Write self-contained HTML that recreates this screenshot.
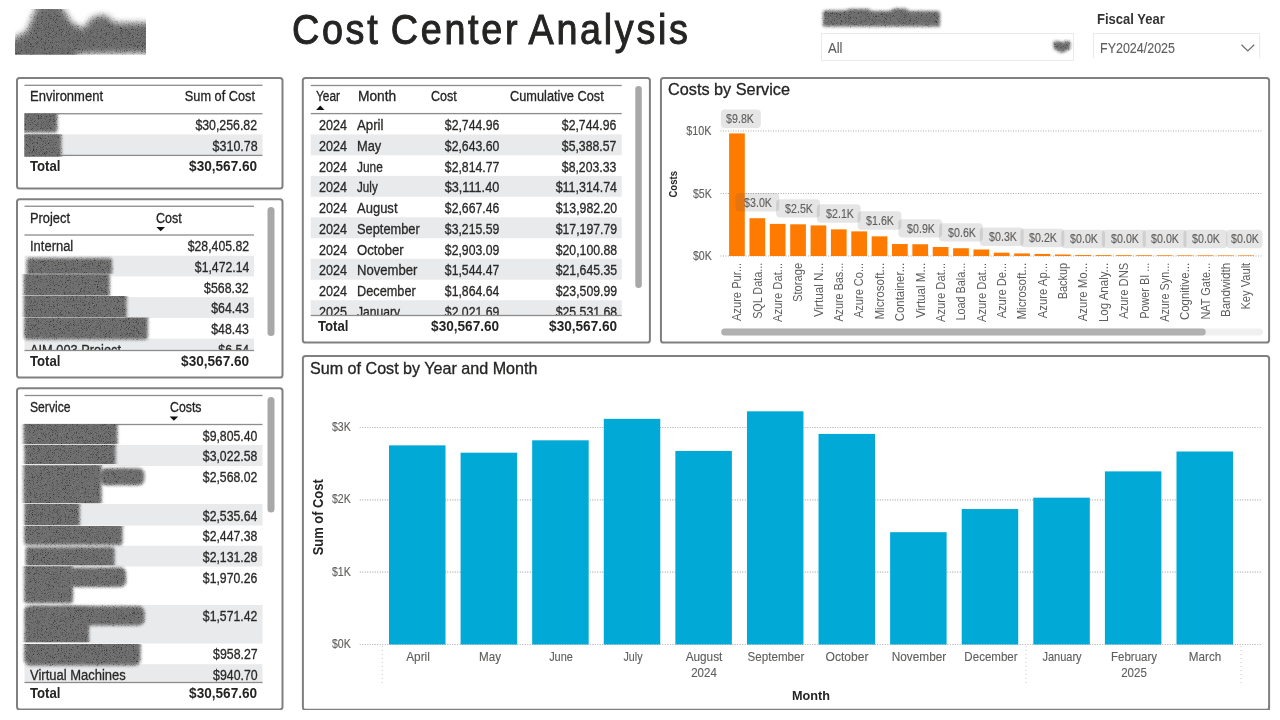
<!DOCTYPE html>
<html lang="en">
<head>
<meta charset="utf-8">
<title>Cost Center Analysis</title>
<style>
html,body{margin:0;padding:0;background:#fff}
h1,h2{margin:0;font-weight:400}
body{width:1280px;height:720px;position:relative;overflow:hidden;font-family:"Liberation Sans", sans-serif;color:#252423}
.t{position:absolute;white-space:nowrap;line-height:1;transform-origin:left center;-webkit-text-stroke:0.3px currentColor}
.b{position:absolute;box-sizing:border-box}
svg{position:absolute;left:0;top:0;overflow:visible}
svg text{font-family:"Liberation Sans", sans-serif}
</style>
</head>
<body>
<h1 id="t1" class="t" style="left:291.60px;top:9.45px;font-size:42px;letter-spacing:3px;word-spacing:-3px;-webkit-text-stroke:1px #252423;transform:scaleX(0.8981)">Cost Center Analysis</h1>
<div class="b" style="left:821.00px;top:33.00px;width:253.00px;height:27.50px;border:1px solid #eaeaea;background:#fff"></div>
<div id="t2" class="t" style="left:827.50px;top:41.45px;font-size:14px;color:#605e5c;-webkit-text-stroke:0.12px;transform:scaleX(0.9317)">All</div>
<div class="b" style="left:1093.00px;top:33.00px;width:167.00px;height:25.00px;border:1px solid #eaeaea;border-bottom:none;background:#fff"></div>
<div id="t3" class="t" style="left:1096.75px;top:11.65px;font-size:14px;color:#333;font-weight:700;-webkit-text-stroke:0;transform:scaleX(0.9291)">Fiscal Year</div>
<div id="t4" class="t" style="left:1099.50px;top:41.45px;font-size:14px;color:#605e5c;-webkit-text-stroke:0.12px;transform:scaleX(0.8920)">FY2024/2025</div>
<svg width="1280" height="720"><polyline points="1241.5,44.8 1247.8,51 1254.2,44.8" fill="none" stroke="#6f6d6b" stroke-width="1.2"/></svg>
<svg width="1280" height="720"><rect x="17" y="78" width="265.5" height="110.6" rx="2.6" fill="#fff" stroke="#808080" stroke-width="2"/></svg>
<svg width="1280" height="720"><rect x="24.5" y="84.65" width="238" height="1.3" fill="#8c8c8c"/></svg>
<div id="t5" class="t" style="left:30.30px;top:89.15px;font-size:14px;transform:scaleX(0.9288)">Environment</div>
<div id="t6" class="t" style="right:1025.00px;top:89.15px;font-size:14px;transform:scaleX(0.9113);transform-origin:right">Sum of Cost</div>
<svg width="1280" height="720"><rect x="24.5" y="113.1" width="238" height="1.3" fill="#8c8c8c"/></svg>
<svg width="1280" height="720"><rect x="24.5" y="134.4" width="238" height="20.6" fill="#e9eaec"/></svg>
<div id="t7" class="t" style="right:1022.70px;top:118.15px;font-size:14px;color:#2a2928;transform:scaleX(0.8804);transform-origin:right">$30,256.82</div>
<div id="t8" class="t" style="right:1022.70px;top:138.85px;font-size:14px;color:#2a2928;transform:scaleX(0.8892);transform-origin:right">$310.78</div>
<svg width="1280" height="720"><rect x="24.5" y="154.75" width="238" height="1.3" fill="#8c8c8c"/></svg>
<div id="t9" class="t" style="left:30.00px;top:159.15px;font-size:14px;font-weight:700;-webkit-text-stroke:0;transform:scaleX(0.9412)">Total</div>
<div id="t10" class="t" style="right:1022.50px;top:159.15px;font-size:14px;font-weight:700;-webkit-text-stroke:0;transform:scaleX(0.9703);transform-origin:right">$30,567.60</div>
<svg width="1280" height="720"><rect x="17" y="199.2" width="265.5" height="178.3" rx="2.6" fill="#fff" stroke="#808080" stroke-width="2"/></svg>
<svg width="1280" height="720"><rect x="24.5" y="205.6" width="229.5" height="1.3" fill="#8c8c8c"/></svg>
<div id="t11" class="t" style="left:30.00px;top:210.65px;font-size:14px;transform:scaleX(0.9179)">Project</div>
<div id="t12" class="t" style="left:156.25px;top:210.65px;font-size:14px;transform:scaleX(0.8942)">Cost</div>
<svg width="1280" height="720"><polygon points="156.4,226.9 165,226.9 160.7,231.3" fill="#111"/></svg>
<svg width="1280" height="720"><rect x="24.5" y="234.35" width="229.5" height="1.3" fill="#8c8c8c"/></svg>
<div class="b" style="left:0;top:235.6px;width:1280px;height:114.6px;overflow:hidden"><div class="b" style="left:0;top:-235.6px;width:1280px;height:720px">
<div id="t13" class="t" style="right:1031.00px;top:239.15px;font-size:14px;color:#2a2928;transform:scaleX(0.8756);transform-origin:right">$28,405.82</div>
<svg width="1280" height="720"><rect x="24.5" y="255.72" width="229.5" height="20.72" fill="#e9eaec"/></svg>
<div id="t14" class="t" style="right:1031.00px;top:259.85px;font-size:14px;color:#2a2928;transform:scaleX(0.8739);transform-origin:right">$1,472.14</div>
<div id="t15" class="t" style="right:1031.00px;top:280.55px;font-size:14px;color:#2a2928;transform:scaleX(0.8797);transform-origin:right">$568.32</div>
<svg width="1280" height="720"><rect x="24.5" y="297.16" width="229.5" height="20.72" fill="#e9eaec"/></svg>
<div id="t16" class="t" style="right:1031.00px;top:301.25px;font-size:14px;color:#2a2928;transform:scaleX(0.8779);transform-origin:right">$64.43</div>
<div id="t17" class="t" style="right:1031.00px;top:321.95px;font-size:14px;color:#2a2928;transform:scaleX(0.8779);transform-origin:right">$48.43</div>
<svg width="1280" height="720"><rect x="24.5" y="338.6" width="229.5" height="20.72" fill="#e9eaec"/></svg>
<div id="t18" class="t" style="right:1031.00px;top:342.65px;font-size:14px;color:#2a2928;transform:scaleX(0.8754);transform-origin:right">$6.54</div>
<div id="t19" class="t" style="left:30.00px;top:239.15px;font-size:14px;color:#2a2928;transform:scaleX(0.9261)">Internal</div>
<div id="t20" class="t" style="left:30.00px;top:342.65px;font-size:14px;color:#2a2928;transform:scaleX(0.9136)">AIM 003 Project</div>
</div></div>
<svg width="1280" height="720"><rect x="24.5" y="349.85" width="229.5" height="1.3" fill="#8c8c8c"/></svg>
<div id="t21" class="t" style="left:30.00px;top:354.25px;font-size:14px;font-weight:700;-webkit-text-stroke:0;transform:scaleX(0.9412)">Total</div>
<div id="t22" class="t" style="right:1031.00px;top:354.25px;font-size:14px;font-weight:700;-webkit-text-stroke:0;transform:scaleX(0.9703);transform-origin:right">$30,567.60</div>
<svg width="1280" height="720"><rect x="267.5" y="207" width="7" height="129" rx="3.5" fill="#a8a8a8"/></svg>
<svg width="1280" height="720"><rect x="17" y="388.3" width="265.5" height="321.1" rx="2.6" fill="#fff" stroke="#808080" stroke-width="2"/></svg>
<svg width="1280" height="720"><rect x="24.5" y="394.85" width="238" height="1.3" fill="#8c8c8c"/></svg>
<div id="t23" class="t" style="left:30.00px;top:400.15px;font-size:14px;transform:scaleX(0.8675)">Service</div>
<div id="t24" class="t" style="left:169.50px;top:400.15px;font-size:14px;transform:scaleX(0.8800)">Costs</div>
<svg width="1280" height="720"><polygon points="169.6,416.4 178.2,416.4 173.9,420.8" fill="#111"/></svg>
<svg width="1280" height="720"><rect x="24.5" y="423.85" width="238" height="1.3" fill="#8c8c8c"/></svg>
<div class="b" style="left:0;top:425.1px;width:1280px;height:257.1px;overflow:hidden"><div class="b" style="left:0;top:-425.1px;width:1280px;height:720px">
<div id="t25" class="t" style="right:1022.25px;top:428.75px;font-size:14px;color:#2a2928;transform:scaleX(0.8739);transform-origin:right">$9,805.40</div>
<svg width="1280" height="720"><rect x="24.5" y="445" width="238" height="21" fill="#e9eaec"/></svg>
<div id="t26" class="t" style="right:1022.25px;top:449.45px;font-size:14px;color:#2a2928;transform:scaleX(0.8739);transform-origin:right">$3,022.58</div>
<div id="t27" class="t" style="right:1022.25px;top:470.15px;font-size:14px;color:#2a2928;transform:scaleX(0.8739);transform-origin:right">$2,568.02</div>
<svg width="1280" height="720"><rect x="24.5" y="504" width="238" height="21.5" fill="#e9eaec"/></svg>
<div id="t28" class="t" style="right:1022.25px;top:508.55px;font-size:14px;color:#2a2928;transform:scaleX(0.8739);transform-origin:right">$2,535.64</div>
<div id="t29" class="t" style="right:1022.25px;top:529.15px;font-size:14px;color:#2a2928;transform:scaleX(0.8739);transform-origin:right">$2,447.38</div>
<svg width="1280" height="720"><rect x="24.5" y="545.7" width="238" height="20.8" fill="#e9eaec"/></svg>
<div id="t30" class="t" style="right:1022.25px;top:549.85px;font-size:14px;color:#2a2928;transform:scaleX(0.8739);transform-origin:right">$2,131.28</div>
<div id="t31" class="t" style="right:1022.25px;top:570.65px;font-size:14px;color:#2a2928;transform:scaleX(0.8739);transform-origin:right">$1,970.26</div>
<svg width="1280" height="720"><rect x="24.5" y="605" width="238" height="38.5" fill="#e9eaec"/></svg>
<div id="t32" class="t" style="right:1022.25px;top:609.15px;font-size:14px;color:#2a2928;transform:scaleX(0.8739);transform-origin:right">$1,571.42</div>
<div id="t33" class="t" style="right:1022.25px;top:647.45px;font-size:14px;color:#2a2928;transform:scaleX(0.8797);transform-origin:right">$958.27</div>
<svg width="1280" height="720"><rect x="24.5" y="664.2" width="238" height="20.7" fill="#e9eaec"/></svg>
<div id="t34" class="t" style="right:1022.25px;top:668.15px;font-size:14px;color:#2a2928;transform:scaleX(0.8797);transform-origin:right">$940.70</div>
<div id="t35" class="t" style="left:30.00px;top:668.15px;font-size:14px;color:#2a2928;transform:scaleX(0.9274)">Virtual Machines</div>
</div></div>
<svg width="1280" height="720"><rect x="24.5" y="681.85" width="238" height="1.3" fill="#8c8c8c"/></svg>
<div id="t36" class="t" style="left:30.00px;top:686.15px;font-size:14px;font-weight:700;-webkit-text-stroke:0;transform:scaleX(0.9412)">Total</div>
<div id="t37" class="t" style="right:1022.50px;top:686.15px;font-size:14px;font-weight:700;-webkit-text-stroke:0;transform:scaleX(0.9703);transform-origin:right">$30,567.60</div>
<svg width="1280" height="720"><rect x="267.5" y="397" width="7" height="115.5" rx="3.5" fill="#a8a8a8"/></svg>
<svg width="1280" height="720"><rect x="302.8" y="78" width="347.1" height="264.5" rx="2.6" fill="#fff" stroke="#808080" stroke-width="2"/></svg>
<svg width="1280" height="720"><rect x="310.75" y="84.85" width="311" height="1.3" fill="#8c8c8c"/></svg>
<div id="t38" class="t" style="left:316.00px;top:89.15px;font-size:14px;transform:scaleX(0.8482)">Year</div>
<div id="t39" class="t" style="left:357.50px;top:89.15px;font-size:14px;transform:scaleX(0.9827)">Month</div>
<div id="t40" class="t" style="left:431.00px;top:89.15px;font-size:14px;transform:scaleX(0.8942)">Cost</div>
<div id="t41" class="t" style="left:510.00px;top:89.15px;font-size:14px;transform:scaleX(0.9128)">Cumulative Cost</div>
<svg width="1280" height="720"><polygon points="316.1,110 320.3,105.6 324.5,110" fill="#111"/></svg>
<svg width="1280" height="720"><rect x="310.75" y="112.95" width="311" height="1.3" fill="#8c8c8c"/></svg>
<div class="b" style="left:0;top:114.2px;width:1280px;height:201px;overflow:hidden"><div class="b" style="left:0;top:-114.2px;width:1280px;height:720px">
<div id="t42" class="t" style="left:319.00px;top:118.15px;font-size:14px;color:#2a2928;transform:scaleX(0.8987)">2024</div>
<div id="t43" class="t" style="left:356.90px;top:118.15px;font-size:14px;color:#2a2928;transform:scaleX(0.9459)">April</div>
<div id="t44" class="t" style="right:780.50px;top:118.15px;font-size:14px;color:#2a2928;transform:scaleX(0.8739);transform-origin:right">$2,744.96</div>
<div id="t45" class="t" style="right:663.25px;top:118.15px;font-size:14px;color:#2a2928;transform:scaleX(0.8739);transform-origin:right">$2,744.96</div>
<svg width="1280" height="720"><rect x="310.75" y="134.43" width="311" height="20.9" fill="#e9eaec"/></svg>
<div id="t46" class="t" style="left:319.00px;top:138.88px;font-size:14px;color:#2a2928;transform:scaleX(0.8987)">2024</div>
<div id="t47" class="t" style="left:356.90px;top:138.88px;font-size:14px;color:#2a2928;transform:scaleX(0.9167)">May</div>
<div id="t48" class="t" style="right:780.50px;top:138.88px;font-size:14px;color:#2a2928;transform:scaleX(0.8739);transform-origin:right">$2,643.60</div>
<div id="t49" class="t" style="right:663.25px;top:138.88px;font-size:14px;color:#2a2928;transform:scaleX(0.8739);transform-origin:right">$5,388.57</div>
<div id="t50" class="t" style="left:319.00px;top:159.61px;font-size:14px;color:#2a2928;transform:scaleX(0.8987)">2024</div>
<div id="t51" class="t" style="left:356.90px;top:159.61px;font-size:14px;color:#2a2928;transform:scaleX(0.8482)">June</div>
<div id="t52" class="t" style="right:780.50px;top:159.61px;font-size:14px;color:#2a2928;transform:scaleX(0.8739);transform-origin:right">$2,814.77</div>
<div id="t53" class="t" style="right:663.25px;top:159.61px;font-size:14px;color:#2a2928;transform:scaleX(0.8739);transform-origin:right">$8,203.33</div>
<svg width="1280" height="720"><rect x="310.75" y="175.89" width="311" height="20.9" fill="#e9eaec"/></svg>
<div id="t54" class="t" style="left:319.00px;top:180.34px;font-size:14px;color:#2a2928;transform:scaleX(0.8987)">2024</div>
<div id="t55" class="t" style="left:356.90px;top:180.34px;font-size:14px;color:#2a2928;transform:scaleX(0.8331)">July</div>
<div id="t56" class="t" style="right:780.50px;top:180.34px;font-size:14px;color:#2a2928;transform:scaleX(0.9040);transform-origin:right">$3,111.40</div>
<div id="t57" class="t" style="right:663.25px;top:180.34px;font-size:14px;color:#2a2928;transform:scaleX(0.8889);transform-origin:right">$11,314.74</div>
<div id="t58" class="t" style="left:319.00px;top:201.07px;font-size:14px;color:#2a2928;transform:scaleX(0.8987)">2024</div>
<div id="t59" class="t" style="left:356.90px;top:201.07px;font-size:14px;color:#2a2928;transform:scaleX(0.9290)">August</div>
<div id="t60" class="t" style="right:780.50px;top:201.07px;font-size:14px;color:#2a2928;transform:scaleX(0.8739);transform-origin:right">$2,667.46</div>
<div id="t61" class="t" style="right:663.25px;top:201.07px;font-size:14px;color:#2a2928;transform:scaleX(0.8756);transform-origin:right">$13,982.20</div>
<svg width="1280" height="720"><rect x="310.75" y="217.35" width="311" height="20.9" fill="#e9eaec"/></svg>
<div id="t62" class="t" style="left:319.00px;top:221.80px;font-size:14px;color:#2a2928;transform:scaleX(0.8987)">2024</div>
<div id="t63" class="t" style="left:356.90px;top:221.80px;font-size:14px;color:#2a2928;transform:scaleX(0.9163)">September</div>
<div id="t64" class="t" style="right:780.50px;top:221.80px;font-size:14px;color:#2a2928;transform:scaleX(0.8739);transform-origin:right">$3,215.59</div>
<div id="t65" class="t" style="right:663.25px;top:221.80px;font-size:14px;color:#2a2928;transform:scaleX(0.8756);transform-origin:right">$17,197.79</div>
<div id="t66" class="t" style="left:319.00px;top:242.53px;font-size:14px;color:#2a2928;transform:scaleX(0.8987)">2024</div>
<div id="t67" class="t" style="left:356.90px;top:242.53px;font-size:14px;color:#2a2928;transform:scaleX(0.9385)">October</div>
<div id="t68" class="t" style="right:780.50px;top:242.53px;font-size:14px;color:#2a2928;transform:scaleX(0.8739);transform-origin:right">$2,903.09</div>
<div id="t69" class="t" style="right:663.25px;top:242.53px;font-size:14px;color:#2a2928;transform:scaleX(0.8756);transform-origin:right">$20,100.88</div>
<svg width="1280" height="720"><rect x="310.75" y="258.81" width="311" height="20.9" fill="#e9eaec"/></svg>
<div id="t70" class="t" style="left:319.00px;top:263.26px;font-size:14px;color:#2a2928;transform:scaleX(0.8987)">2024</div>
<div id="t71" class="t" style="left:356.90px;top:263.26px;font-size:14px;color:#2a2928;transform:scaleX(0.9366)">November</div>
<div id="t72" class="t" style="right:780.50px;top:263.26px;font-size:14px;color:#2a2928;transform:scaleX(0.8739);transform-origin:right">$1,544.47</div>
<div id="t73" class="t" style="right:663.25px;top:263.26px;font-size:14px;color:#2a2928;transform:scaleX(0.8756);transform-origin:right">$21,645.35</div>
<div id="t74" class="t" style="left:319.00px;top:283.99px;font-size:14px;color:#2a2928;transform:scaleX(0.8987)">2024</div>
<div id="t75" class="t" style="left:356.90px;top:283.99px;font-size:14px;color:#2a2928;transform:scaleX(0.9095)">December</div>
<div id="t76" class="t" style="right:780.50px;top:283.99px;font-size:14px;color:#2a2928;transform:scaleX(0.8739);transform-origin:right">$1,864.64</div>
<div id="t77" class="t" style="right:663.25px;top:283.99px;font-size:14px;color:#2a2928;transform:scaleX(0.8756);transform-origin:right">$23,509.99</div>
<svg width="1280" height="720"><rect x="310.75" y="300.27" width="311" height="20.9" fill="#e9eaec"/></svg>
<div id="t78" class="t" style="left:319.00px;top:304.72px;font-size:14px;color:#2a2928;transform:scaleX(0.8987)">2025</div>
<div id="t79" class="t" style="left:356.90px;top:304.72px;font-size:14px;color:#2a2928;transform:scaleX(0.8632)">January</div>
<div id="t80" class="t" style="right:780.50px;top:304.72px;font-size:14px;color:#2a2928;transform:scaleX(0.8739);transform-origin:right">$2,021.69</div>
<div id="t81" class="t" style="right:663.25px;top:304.72px;font-size:14px;color:#2a2928;transform:scaleX(0.8756);transform-origin:right">$25,531.68</div>
</div></div>
<svg width="1280" height="720"><rect x="310.75" y="314.85" width="311" height="1.3" fill="#8c8c8c"/></svg>
<div id="t82" class="t" style="left:317.50px;top:319.15px;font-size:14px;font-weight:700;-webkit-text-stroke:0;transform:scaleX(0.9412)">Total</div>
<div id="t83" class="t" style="right:780.50px;top:319.15px;font-size:14px;font-weight:700;-webkit-text-stroke:0;transform:scaleX(0.9703);transform-origin:right">$30,567.60</div>
<div id="t84" class="t" style="right:663.25px;top:319.15px;font-size:14px;font-weight:700;-webkit-text-stroke:0;transform:scaleX(0.9703);transform-origin:right">$30,567.60</div>
<svg width="1280" height="720"><rect x="635.3" y="86" width="6.5" height="202" rx="3.25" fill="#a8a8a8"/></svg>
<svg width="1280" height="720"><rect x="660.95" y="78" width="608.15" height="264.5" rx="2.6" fill="#fff" stroke="#808080" stroke-width="2"/></svg>
<h2 id="t85" class="t" style="left:668.00px;top:82.01px;font-size:15.7px;-webkit-text-stroke:0.3px #252423;transform:scaleX(1.0365)">Costs by Service</h2>
<svg width="1280" height="720" viewBox="0 0 1280 720"><line x1="720.5" x2="1261.5" y1="131" y2="131" stroke="#adadad" stroke-width="1.15" stroke-dasharray="1 1.5"/><line x1="720.5" x2="1261.5" y1="193.5" y2="193.5" stroke="#adadad" stroke-width="1.15" stroke-dasharray="1 1.5"/><line x1="720.5" x2="1261.5" y1="256" y2="256" stroke="#adadad" stroke-width="1.15" stroke-dasharray="1 1.5"/><rect x="729.10" y="133.43" width="15.70" height="122.57" fill="#ff7b00"/><rect x="749.47" y="218.22" width="15.70" height="37.78" fill="#ff7b00"/><rect x="769.83" y="223.90" width="15.70" height="32.10" fill="#ff7b00"/><rect x="790.20" y="224.30" width="15.70" height="31.70" fill="#ff7b00"/><rect x="810.56" y="225.41" width="15.70" height="30.59" fill="#ff7b00"/><rect x="830.92" y="229.36" width="15.70" height="26.64" fill="#ff7b00"/><rect x="851.29" y="231.37" width="15.70" height="24.63" fill="#ff7b00"/><rect x="871.65" y="236.36" width="15.70" height="19.64" fill="#ff7b00"/><rect x="892.02" y="244.02" width="15.70" height="11.98" fill="#ff7b00"/><rect x="912.38" y="244.24" width="15.70" height="11.76" fill="#ff7b00"/><rect x="932.75" y="247.00" width="15.70" height="9.00" fill="#ff7b00"/><rect x="953.12" y="248.25" width="15.70" height="7.75" fill="#ff7b00"/><rect x="973.48" y="249.50" width="15.70" height="6.50" fill="#ff7b00"/><rect x="993.85" y="252.69" width="15.70" height="3.31" fill="#ff7b00"/><rect x="1014.21" y="253.44" width="15.70" height="2.56" fill="#ff7b00"/><rect x="1034.58" y="253.94" width="15.70" height="2.06" fill="#ff7b00"/><rect x="1054.94" y="254.50" width="15.70" height="1.50" fill="#ff7b00"/><rect x="1075.31" y="255.06" width="15.70" height="0.94" fill="#ff7b00"/><rect x="1095.67" y="255.12" width="15.70" height="0.88" fill="#ff7b00"/><rect x="1116.03" y="255.19" width="15.70" height="0.81" fill="#ff7b00"/><rect x="1136.40" y="255.25" width="15.70" height="0.75" fill="#ff7b00"/><rect x="1156.76" y="255.31" width="15.70" height="0.69" fill="#ff7b00"/><rect x="1177.13" y="255.38" width="15.70" height="0.62" fill="#ff7b00"/><rect x="1197.49" y="255.38" width="15.70" height="0.62" fill="#ff7b00"/><rect x="1217.86" y="255.44" width="15.70" height="0.56" fill="#ff7b00"/><rect x="1238.22" y="255.44" width="15.70" height="0.56" fill="#ff7b00"/></svg>
<div id="t86" class="t" style="right:568.60px;top:125.17px;font-size:12.2px;color:#605e5c;-webkit-text-stroke:0.12px;transform:scaleX(0.8852);transform-origin:right">$10K</div>
<div id="t87" class="t" style="right:568.60px;top:187.67px;font-size:12.2px;color:#605e5c;-webkit-text-stroke:0.12px;transform:scaleX(0.8669);transform-origin:right">$5K</div>
<div id="t88" class="t" style="right:568.60px;top:250.17px;font-size:12.2px;color:#605e5c;-webkit-text-stroke:0.12px;transform:scaleX(0.8669);transform-origin:right">$0K</div>
<svg width="1280" height="720"><rect x="720.9" y="109.5" width="40" height="18.6" rx="4" fill="#605e5c" fill-opacity="0.16"/></svg>
<div id="t89" class="t" style="left:739.70px;top:112.97px;font-size:12.2px;color:#605e5c;-webkit-text-stroke:0.12px;transform:translateX(-50%) scaleX(0.8726);transform-origin:center">$9.8K</div>
<svg width="1280" height="720"><rect x="735.42" y="193.12" width="43.8" height="18.4" rx="4" fill="#605e5c" fill-opacity="0.16"/></svg>
<div id="t90" class="t" style="left:758.12px;top:196.59px;font-size:12.2px;color:#605e5c;-webkit-text-stroke:0.12px;transform:translateX(-50%) scaleX(0.8726);transform-origin:center">$3.0K</div>
<svg width="1280" height="720"><rect x="776.15" y="199.2" width="43.8" height="18.4" rx="4" fill="#605e5c" fill-opacity="0.16"/></svg>
<div id="t91" class="t" style="left:798.85px;top:202.68px;font-size:12.2px;color:#605e5c;-webkit-text-stroke:0.12px;transform:translateX(-50%) scaleX(0.8726);transform-origin:center">$2.5K</div>
<svg width="1280" height="720"><rect x="816.88" y="204.26" width="43.8" height="18.4" rx="4" fill="#605e5c" fill-opacity="0.16"/></svg>
<div id="t92" class="t" style="left:839.57px;top:207.73px;font-size:12.2px;color:#605e5c;-webkit-text-stroke:0.12px;transform:translateX(-50%) scaleX(0.8726);transform-origin:center">$2.1K</div>
<svg width="1280" height="720"><rect x="857.61" y="211.26" width="43.8" height="18.4" rx="4" fill="#605e5c" fill-opacity="0.16"/></svg>
<div id="t93" class="t" style="left:880.30px;top:214.73px;font-size:12.2px;color:#605e5c;-webkit-text-stroke:0.12px;transform:translateX(-50%) scaleX(0.8726);transform-origin:center">$1.6K</div>
<svg width="1280" height="720"><rect x="898.34" y="219.14" width="43.8" height="18.4" rx="4" fill="#605e5c" fill-opacity="0.16"/></svg>
<div id="t94" class="t" style="left:921.03px;top:222.61px;font-size:12.2px;color:#605e5c;-webkit-text-stroke:0.12px;transform:translateX(-50%) scaleX(0.8726);transform-origin:center">$0.9K</div>
<svg width="1280" height="720"><rect x="939.07" y="223.15" width="43.8" height="18.4" rx="4" fill="#605e5c" fill-opacity="0.16"/></svg>
<div id="t95" class="t" style="left:961.76px;top:226.62px;font-size:12.2px;color:#605e5c;-webkit-text-stroke:0.12px;transform:translateX(-50%) scaleX(0.8726);transform-origin:center">$0.6K</div>
<svg width="1280" height="720"><rect x="979.8" y="227.59" width="43.8" height="18.4" rx="4" fill="#605e5c" fill-opacity="0.16"/></svg>
<div id="t96" class="t" style="left:1002.50px;top:231.06px;font-size:12.2px;color:#605e5c;-webkit-text-stroke:0.12px;transform:translateX(-50%) scaleX(0.8726);transform-origin:center">$0.3K</div>
<svg width="1280" height="720"><rect x="1020.52" y="228.84" width="43.8" height="18.4" rx="4" fill="#605e5c" fill-opacity="0.16"/></svg>
<div id="t97" class="t" style="left:1043.23px;top:232.31px;font-size:12.2px;color:#605e5c;-webkit-text-stroke:0.12px;transform:translateX(-50%) scaleX(0.8726);transform-origin:center">$0.2K</div>
<svg width="1280" height="720"><rect x="1061.25" y="229.8" width="43.8" height="18.4" rx="4" fill="#605e5c" fill-opacity="0.16"/></svg>
<div id="t98" class="t" style="left:1083.96px;top:233.27px;font-size:12.2px;color:#605e5c;-webkit-text-stroke:0.12px;transform:translateX(-50%) scaleX(0.8726);transform-origin:center">$0.0K</div>
<svg width="1280" height="720"><rect x="1101.98" y="229.8" width="43.8" height="18.4" rx="4" fill="#605e5c" fill-opacity="0.16"/></svg>
<div id="t99" class="t" style="left:1124.68px;top:233.27px;font-size:12.2px;color:#605e5c;-webkit-text-stroke:0.12px;transform:translateX(-50%) scaleX(0.8726);transform-origin:center">$0.0K</div>
<svg width="1280" height="720"><rect x="1142.71" y="229.8" width="43.8" height="18.4" rx="4" fill="#605e5c" fill-opacity="0.16"/></svg>
<div id="t100" class="t" style="left:1165.41px;top:233.27px;font-size:12.2px;color:#605e5c;-webkit-text-stroke:0.12px;transform:translateX(-50%) scaleX(0.8726);transform-origin:center">$0.0K</div>
<svg width="1280" height="720"><rect x="1183.44" y="229.8" width="43.8" height="18.4" rx="4" fill="#605e5c" fill-opacity="0.16"/></svg>
<div id="t101" class="t" style="left:1206.14px;top:233.27px;font-size:12.2px;color:#605e5c;-webkit-text-stroke:0.12px;transform:translateX(-50%) scaleX(0.8726);transform-origin:center">$0.0K</div>
<svg width="1280" height="720"><rect x="1226.25" y="229.8" width="36.25" height="18.4" rx="4" fill="#605e5c" fill-opacity="0.16"/></svg>
<div id="t102" class="t" style="left:1244.90px;top:233.27px;font-size:12.2px;color:#605e5c;-webkit-text-stroke:0.12px;transform:translateX(-50%) scaleX(0.8726);transform-origin:center">$0.0K</div>
<svg width="1280" height="720" viewBox="0 0 1280 720" font-size="12.2" fill="#605e5c"><text transform="translate(741.25 262.8) rotate(-90)" text-anchor="end" textLength="58.3" lengthAdjust="spacingAndGlyphs">Azure Pur...</text><text transform="translate(761.62 262.8) rotate(-90)" text-anchor="end" textLength="56.05" lengthAdjust="spacingAndGlyphs">SQL Data...</text><text transform="translate(781.98 262.8) rotate(-90)" text-anchor="end" textLength="59.3" lengthAdjust="spacingAndGlyphs">Azure Dat...</text><text transform="translate(802.35 262.8) rotate(-90)" text-anchor="end" textLength="39.3" lengthAdjust="spacingAndGlyphs">Storage</text><text transform="translate(822.71 262.8) rotate(-90)" text-anchor="end" textLength="54.3" lengthAdjust="spacingAndGlyphs">Virtual N...</text><text transform="translate(843.07 262.8) rotate(-90)" text-anchor="end" textLength="58.8" lengthAdjust="spacingAndGlyphs">Azure Bas...</text><text transform="translate(863.44 262.8) rotate(-90)" text-anchor="end" textLength="55.3" lengthAdjust="spacingAndGlyphs">Azure Co...</text><text transform="translate(883.80 262.8) rotate(-90)" text-anchor="end" textLength="56.8" lengthAdjust="spacingAndGlyphs">Microsoft...</text><text transform="translate(904.17 262.8) rotate(-90)" text-anchor="end" textLength="58.55" lengthAdjust="spacingAndGlyphs">Container...</text><text transform="translate(924.53 262.8) rotate(-90)" text-anchor="end" textLength="55.3" lengthAdjust="spacingAndGlyphs">Virtual M...</text><text transform="translate(944.90 262.8) rotate(-90)" text-anchor="end" textLength="59.3" lengthAdjust="spacingAndGlyphs">Azure Dat...</text><text transform="translate(965.26 262.8) rotate(-90)" text-anchor="end" textLength="57.8" lengthAdjust="spacingAndGlyphs">Load Bala...</text><text transform="translate(985.63 262.8) rotate(-90)" text-anchor="end" textLength="59.3" lengthAdjust="spacingAndGlyphs">Azure Dat...</text><text transform="translate(1006.00 262.8) rotate(-90)" text-anchor="end" textLength="55.55" lengthAdjust="spacingAndGlyphs">Azure De...</text><text transform="translate(1026.36 262.8) rotate(-90)" text-anchor="end" textLength="56.8" lengthAdjust="spacingAndGlyphs">Microsoft...</text><text transform="translate(1046.72 262.8) rotate(-90)" text-anchor="end" textLength="55.55" lengthAdjust="spacingAndGlyphs">Azure Ap...</text><text transform="translate(1067.09 262.8) rotate(-90)" text-anchor="end" textLength="36.55" lengthAdjust="spacingAndGlyphs">Backup</text><text transform="translate(1087.45 262.8) rotate(-90)" text-anchor="end" textLength="58.55" lengthAdjust="spacingAndGlyphs">Azure Mo...</text><text transform="translate(1107.82 262.8) rotate(-90)" text-anchor="end" textLength="59.3" lengthAdjust="spacingAndGlyphs">Log Analy...</text><text transform="translate(1128.18 262.8) rotate(-90)" text-anchor="end" textLength="56.05" lengthAdjust="spacingAndGlyphs">Azure DNS</text><text transform="translate(1148.55 262.8) rotate(-90)" text-anchor="end" textLength="56.05" lengthAdjust="spacingAndGlyphs">Power BI ...</text><text transform="translate(1168.91 262.8) rotate(-90)" text-anchor="end" textLength="59.05" lengthAdjust="spacingAndGlyphs">Azure Syn...</text><text transform="translate(1189.28 262.8) rotate(-90)" text-anchor="end" textLength="57.3" lengthAdjust="spacingAndGlyphs">Cognitive...</text><text transform="translate(1209.64 262.8) rotate(-90)" text-anchor="end" textLength="56.8" lengthAdjust="spacingAndGlyphs">NAT Gate...</text><text transform="translate(1230.01 262.8) rotate(-90)" text-anchor="end" textLength="54.3" lengthAdjust="spacingAndGlyphs">Bandwidth</text><text transform="translate(1250.37 262.8) rotate(-90)" text-anchor="end" textLength="46.8" lengthAdjust="spacingAndGlyphs">Key Vault</text><text transform="translate(676.8 184.3) rotate(-90)" text-anchor="middle" font-size="11.5" font-weight="700" fill="#252423" textLength="26.5" lengthAdjust="spacingAndGlyphs">Costs</text></svg>
<svg width="1280" height="720"><rect x="721.2" y="328.4" width="541.8" height="7" rx="3.5" fill="#f0f0f1"/></svg>
<svg width="1280" height="720"><rect x="721.2" y="328.4" width="484.6" height="7" rx="3.5" fill="#b1b1b1"/></svg>
<svg width="1280" height="720"><rect x="302.9" y="355.9" width="966.2" height="353.9" rx="2.6" fill="#fff" stroke="#808080" stroke-width="2"/></svg>
<h2 id="t103" class="t" style="left:310.25px;top:360.51px;font-size:15.7px;-webkit-text-stroke:0.3px #252423;transform:scaleX(1.0270)">Sum of Cost by Year and Month</h2>
<svg width="1280" height="720" viewBox="0 0 1280 720"><line x1="359.75" x2="1261.5" y1="644.5" y2="644.5" stroke="#adadad" stroke-width="1.15" stroke-dasharray="1 1.5"/><line x1="359.75" x2="1261.5" y1="572.17" y2="572.17" stroke="#adadad" stroke-width="1.15" stroke-dasharray="1 1.5"/><line x1="359.75" x2="1261.5" y1="499.84" y2="499.84" stroke="#adadad" stroke-width="1.15" stroke-dasharray="1 1.5"/><line x1="359.75" x2="1261.5" y1="427.51" y2="427.51" stroke="#adadad" stroke-width="1.15" stroke-dasharray="1 1.5"/><line x1="382.25" x2="382.25" y1="646" y2="684" stroke="#c8c8c8" stroke-width="1" stroke-dasharray="1 3"/><line x1="1026" x2="1026" y1="646" y2="684" stroke="#c8c8c8" stroke-width="1" stroke-dasharray="1 3"/><line x1="1241" x2="1241" y1="646" y2="684" stroke="#c8c8c8" stroke-width="1" stroke-dasharray="1 3"/><rect x="389.00" y="445.36" width="56.50" height="199.14" fill="#00a9d6"/><rect x="460.59" y="452.69" width="56.50" height="191.81" fill="#00a9d6"/><rect x="532.18" y="440.31" width="56.50" height="204.19" fill="#00a9d6"/><rect x="603.77" y="418.85" width="56.50" height="225.65" fill="#00a9d6"/><rect x="675.36" y="450.96" width="56.50" height="193.54" fill="#00a9d6"/><rect x="746.95" y="411.32" width="56.50" height="233.18" fill="#00a9d6"/><rect x="818.54" y="433.92" width="56.50" height="210.58" fill="#00a9d6"/><rect x="890.13" y="532.19" width="56.50" height="112.31" fill="#00a9d6"/><rect x="961.72" y="509.03" width="56.50" height="135.47" fill="#00a9d6"/><rect x="1033.31" y="497.67" width="56.50" height="146.83" fill="#00a9d6"/><rect x="1104.90" y="471.39" width="56.50" height="173.11" fill="#00a9d6"/><rect x="1176.49" y="451.50" width="56.50" height="193.00" fill="#00a9d6"/><text transform="translate(322.7 517.3) rotate(-90)" text-anchor="middle" font-size="13.8" font-weight="700" fill="#252423" textLength="76" lengthAdjust="spacingAndGlyphs">Sum of Cost</text></svg>
<div id="t104" class="t" style="right:929.50px;top:638.07px;font-size:12.2px;color:#605e5c;-webkit-text-stroke:0.12px;transform:scaleX(0.8669);transform-origin:right">$0K</div>
<div id="t105" class="t" style="right:929.50px;top:565.74px;font-size:12.2px;color:#605e5c;-webkit-text-stroke:0.12px;transform:scaleX(0.8669);transform-origin:right">$1K</div>
<div id="t106" class="t" style="right:929.50px;top:493.41px;font-size:12.2px;color:#605e5c;-webkit-text-stroke:0.12px;transform:scaleX(0.8669);transform-origin:right">$2K</div>
<div id="t107" class="t" style="right:929.50px;top:421.08px;font-size:12.2px;color:#605e5c;-webkit-text-stroke:0.12px;transform:scaleX(0.8669);transform-origin:right">$3K</div>
<div id="t108" class="t" style="left:417.95px;top:650.77px;font-size:12.2px;color:#605e5c;-webkit-text-stroke:0.12px;transform:translateX(-50%) scaleX(0.9737);transform-origin:center">April</div>
<div id="t109" class="t" style="left:489.54px;top:650.77px;font-size:12.2px;color:#605e5c;-webkit-text-stroke:0.12px;transform:translateX(-50%) scaleX(0.9552);transform-origin:center">May</div>
<div id="t110" class="t" style="left:561.13px;top:650.77px;font-size:12.2px;color:#605e5c;-webkit-text-stroke:0.12px;transform:translateX(-50%) scaleX(0.8983);transform-origin:center">June</div>
<div id="t111" class="t" style="left:632.72px;top:650.77px;font-size:12.2px;color:#605e5c;-webkit-text-stroke:0.12px;transform:translateX(-50%) scaleX(0.8761);transform-origin:center">July</div>
<div id="t112" class="t" style="left:704.31px;top:650.77px;font-size:12.2px;color:#605e5c;-webkit-text-stroke:0.12px;transform:translateX(-50%) scaleX(0.9683);transform-origin:center">August</div>
<div id="t113" class="t" style="left:775.90px;top:650.77px;font-size:12.2px;color:#605e5c;-webkit-text-stroke:0.12px;transform:translateX(-50%) scaleX(0.9518);transform-origin:center">September</div>
<div id="t114" class="t" style="left:847.49px;top:650.77px;font-size:12.2px;color:#605e5c;-webkit-text-stroke:0.12px;transform:translateX(-50%) scaleX(0.9917);transform-origin:center">October</div>
<div id="t115" class="t" style="left:919.08px;top:650.77px;font-size:12.2px;color:#605e5c;-webkit-text-stroke:0.12px;transform:translateX(-50%) scaleX(0.9694);transform-origin:center">November</div>
<div id="t116" class="t" style="left:990.67px;top:650.77px;font-size:12.2px;color:#605e5c;-webkit-text-stroke:0.12px;transform:translateX(-50%) scaleX(0.9472);transform-origin:center">December</div>
<div id="t117" class="t" style="left:1062.26px;top:650.77px;font-size:12.2px;color:#605e5c;-webkit-text-stroke:0.12px;transform:translateX(-50%) scaleX(0.9052);transform-origin:center">January</div>
<div id="t118" class="t" style="left:1133.85px;top:650.77px;font-size:12.2px;color:#605e5c;-webkit-text-stroke:0.12px;transform:translateX(-50%) scaleX(0.9430);transform-origin:center">February</div>
<div id="t119" class="t" style="left:1205.44px;top:650.77px;font-size:12.2px;color:#605e5c;-webkit-text-stroke:0.12px;transform:translateX(-50%) scaleX(0.9594);transform-origin:center">March</div>
<div id="t120" class="t" style="left:704.10px;top:667.47px;font-size:12.2px;color:#605e5c;-webkit-text-stroke:0.12px;transform:translateX(-50%) scaleX(0.9438);transform-origin:center">2024</div>
<div id="t121" class="t" style="left:1133.50px;top:667.47px;font-size:12.2px;color:#605e5c;-webkit-text-stroke:0.12px;transform:translateX(-50%) scaleX(0.9438);transform-origin:center">2025</div>
<div id="t122" class="t" style="left:811.20px;top:689.76px;font-size:12.8px;font-weight:700;-webkit-text-stroke:0;transform:translateX(-50%) scaleX(0.9902);transform-origin:center">Month</div>
<svg width="1280" height="720"><rect x="0" y="710" width="1280" height="10" fill="#fff"/></svg>
<svg width="1280" height="720"><rect x="1268.15" y="705" width="1.9" height="5" fill="#808080"/></svg>
<svg width="1280" height="720" viewBox="0 0 1280 720"><defs><filter id="bl3" x="-20%" y="-40%" width="140%" height="180%" color-interpolation-filters="sRGB"><feGaussianBlur stdDeviation="3" result="b"/><feTurbulence type="fractalNoise" baseFrequency="1.25" numOctaves="2" seed="7" result="n"/><feColorMatrix in="n" type="matrix" values="0 0 0 0 0.2  0 0 0 0 0.2  0 0 0 0 0.2  2.4 2.4 0 0 -2.5" result="dk"/><feComposite in="dk" in2="b" operator="in" result="dk2"/><feColorMatrix in="n" type="matrix" values="0 0 0 0 0.55  0 0 0 0 0.55  0 0 0 0 0.55  -2.4 0 -2.4 0 1.85" result="lt"/><feComposite in="lt" in2="b" operator="in" result="lt2"/><feMerge><feMergeNode in="b"/><feMergeNode in="dk2"/><feMergeNode in="lt2"/></feMerge></filter><filter id="bl1" x="-20%" y="-40%" width="140%" height="180%" color-interpolation-filters="sRGB"><feGaussianBlur stdDeviation="1.5" result="b"/><feTurbulence type="fractalNoise" baseFrequency="1.25" numOctaves="2" seed="7" result="n"/><feColorMatrix in="n" type="matrix" values="0 0 0 0 0.2  0 0 0 0 0.2  0 0 0 0 0.2  2.4 2.4 0 0 -2.5" result="dk"/><feComposite in="dk" in2="b" operator="in" result="dk2"/><feColorMatrix in="n" type="matrix" values="0 0 0 0 0.55  0 0 0 0 0.55  0 0 0 0 0.55  -2.4 0 -2.4 0 1.85" result="lt"/><feComposite in="lt" in2="b" operator="in" result="lt2"/><feMerge><feMergeNode in="b"/><feMergeNode in="dk2"/><feMergeNode in="lt2"/></feMerge></filter><clipPath id="cl0"><rect x="15" y="9" width="131" height="45.7"/></clipPath><clipPath id="c0"><rect x="24.3" y="113.6" width="38" height="24"/></clipPath><clipPath id="c1"><rect x="24.3" y="134.2" width="42" height="22.6"/></clipPath><clipPath id="c2"><rect x="22" y="253.3" width="95" height="20.4"/></clipPath><clipPath id="c3"><rect x="18.8" y="274.3" width="95.8" height="21.2"/></clipPath><clipPath id="c4"><rect x="18.8" y="296.1" width="112.7" height="20.9"/></clipPath><clipPath id="c5"><rect x="19.3" y="317.6" width="133.5" height="26.9"/></clipPath><clipPath id="c6"><rect x="18.6" y="424" width="103.8" height="20.2"/></clipPath><clipPath id="c7"><rect x="19.6" y="445" width="101" height="19"/></clipPath><clipPath id="c8"><rect x="18.6" y="465.2" width="87.9" height="38"/></clipPath><clipPath id="c9"><rect x="95" y="463.3" width="54.3" height="27"/></clipPath><clipPath id="c10"><rect x="19.6" y="504" width="65.1" height="21.2"/></clipPath><clipPath id="c11"><rect x="19.3" y="526" width="108.2" height="24"/></clipPath><clipPath id="c12"><rect x="21" y="542.2" width="98.5" height="23.1"/></clipPath><clipPath id="c13"><rect x="19.3" y="566.2" width="58.7" height="42"/></clipPath><clipPath id="c14"><rect x="65" y="562.5" width="66" height="29.5"/></clipPath><clipPath id="c15"><rect x="19.6" y="602" width="74.4" height="40.2"/></clipPath><clipPath id="c16"><rect x="21.5" y="601.3" width="128" height="29.2"/></clipPath><clipPath id="c17"><rect x="19.3" y="644" width="126.2" height="26.5"/></clipPath></defs><g clip-path="url(#cl0)"><polygon filter="url(#bl3)" fill="#6e6e6e" points="5,70 5,44 27,31 38,4 60,4 71,22 83,29 93,17 105,15 115,23 160,23 160,53 78,54 72,70"/></g><g clip-path="url(#c0)"><rect x="19.3" y="108.6" width="38" height="24" rx="3" fill="#707070" filter="url(#bl1)"/></g><g clip-path="url(#c1)"><rect x="19.3" y="129.2" width="42" height="32.6" rx="3" fill="#707070" filter="url(#bl1)"/></g><g clip-path="url(#c2)"><rect x="27" y="258.3" width="85" height="20.4" rx="3" fill="#707070" filter="url(#bl1)"/></g><g clip-path="url(#c3)"><rect x="23.8" y="269.3" width="85.8" height="31.2" rx="3" fill="#707070" filter="url(#bl1)"/></g><g clip-path="url(#c4)"><rect x="23.8" y="291.1" width="102.7" height="30.9" rx="3" fill="#707070" filter="url(#bl1)"/></g><g clip-path="url(#c5)"><rect x="24.3" y="312.6" width="123.5" height="26.9" rx="3" fill="#707070" filter="url(#bl1)"/></g><g clip-path="url(#c6)"><rect x="23.6" y="419" width="93.8" height="30.2" rx="3" fill="#707070" filter="url(#bl1)"/></g><g clip-path="url(#c7)"><rect x="24.6" y="440" width="91" height="29" rx="3" fill="#707070" filter="url(#bl1)"/></g><g clip-path="url(#c8)"><rect x="23.6" y="460.2" width="77.9" height="48" rx="3" fill="#707070" filter="url(#bl1)"/></g><g clip-path="url(#c9)"><rect x="100" y="468.3" width="44.3" height="17" rx="6" fill="#707070" filter="url(#bl1)"/></g><g clip-path="url(#c10)"><rect x="24.6" y="499" width="55.1" height="31.2" rx="3" fill="#707070" filter="url(#bl1)"/></g><g clip-path="url(#c11)"><rect x="24.3" y="521" width="98.2" height="24" rx="3" fill="#707070" filter="url(#bl1)"/></g><g clip-path="url(#c12)"><rect x="26" y="547.2" width="88.5" height="23.1" rx="3" fill="#707070" filter="url(#bl1)"/></g><g clip-path="url(#c13)"><rect x="24.3" y="561.2" width="48.7" height="42" rx="3" fill="#707070" filter="url(#bl1)"/></g><g clip-path="url(#c14)"><rect x="70" y="567.5" width="56" height="19.5" rx="6" fill="#707070" filter="url(#bl1)"/></g><g clip-path="url(#c15)"><rect x="24.6" y="607" width="64.4" height="40.2" rx="3" fill="#707070" filter="url(#bl1)"/></g><g clip-path="url(#c16)"><rect x="26.5" y="606.3" width="118" height="19.2" rx="6" fill="#707070" filter="url(#bl1)"/></g><g clip-path="url(#c17)"><rect x="24.3" y="639" width="116.2" height="26.5" rx="6" fill="#707070" filter="url(#bl1)"/></g><path d="M823 26.5 L823 13 Q823 10.5 826 10.5 L845 10.5 L849 9 L868 9 L872 11 L890 11 L895 8.5 L905 8.5 L910 11 L937 11 Q940 11 940 14 L940 26.5 Z" fill="#707070" filter="url(#bl1)"/><path d="M1053.5 43 Q1053.5 41 1057 41 Q1060 41 1062 43 Q1064 41 1067 41 Q1070.5 41 1070.5 43 L1070 49 L1062 53 L1054 49 Z" fill="#707070" filter="url(#bl1)"/></svg>
</body>
</html>
